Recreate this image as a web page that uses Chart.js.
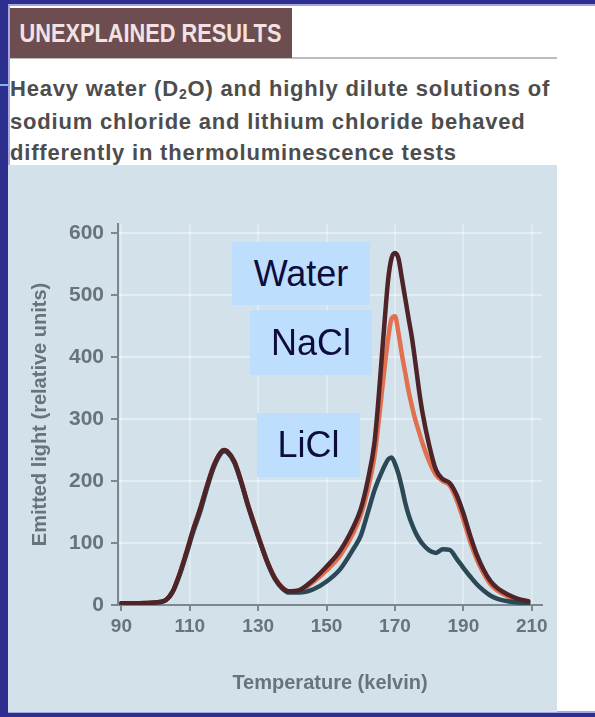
<!DOCTYPE html>
<html>
<head>
<meta charset="utf-8">
<script src="https://cdn.jsdelivr.net/npm/chart.js@4.4.0/dist/chart.umd.min.js"></script>
<style>
  html, body { margin: 0; padding: 0; }
  body {
    width: 595px; height: 717px; position: relative; overflow: hidden;
    background: #2d2f8f;
    font-family: "Liberation Sans", Arial, sans-serif;
  }
  #sheet {
    position: absolute; left: 8px; top: 4px; width: 587px; height: 709px;
    background: #fff; box-sizing: border-box;
    border-top: 2px solid #a6a6e4; border-left: 2px solid #a6a6e4; border-bottom: 2px solid #a6a6e4;
  }
  #rule { position: absolute; left: 10px; top: 57px; width: 547px; height: 2px; background: #bdbdbd; }
  #head {
    position: absolute; left: 10px; top: 8px; width: 282px; height: 50px;
    background: #6d4d4f; overflow: hidden;
  }
  #head span {
    display: inline-block; transform: scaleX(0.87); transform-origin: left center;
    color: #f2e2e4; font-weight: bold; font-size: 25px; line-height: 50px;
    padding-left: 11px; white-space: nowrap;
  }
  .cap {
    position: absolute; left: 10px; height: 30px;
    color: #4d4d4d; font-weight: bold; font-size: 22px; line-height: 30px;
    letter-spacing: 0.8px; white-space: nowrap;
  }
  .cap sub { font-size: 14px; line-height: 0; vertical-align: -3px; }
  #panel { position: absolute; left: 8px; top: 165px; width: 549px; height: 547px; background: #d3e2ea; }
  #chart { position: absolute; left: 0; top: 0; }
  .tag {
    position: absolute; background: #bddefc; color: #0c0c3e;
    font-family: "Liberation Sans", Arial, sans-serif; font-size: 36px;
    display: flex; align-items: center; justify-content: center;
  }
  #leftmark { position: absolute; left: 0; top: 84px; width: 8px; height: 2px; background: #7fb6e8; }
</style>
</head>
<body>
<div id="sheet"></div>
<div id="leftmark"></div>
<div id="rule"></div>
<div id="head"><span>UNEXPLAINED RESULTS</span></div>
<div class="cap" style="top:74px;">Heavy water (D<sub>2</sub>O) and highly dilute solutions of</div>
<div class="cap" style="top:107px;">sodium chloride and lithium chloride behaved</div>
<div class="cap" style="top:138px;">differently in thermoluminescence tests</div>
<div id="panel"><canvas id="chart" width="549" height="547"></canvas></div>
<div class="tag" style="left:232px;top:242px;width:138px;height:63px;">Water</div>
<div class="tag" style="left:250px;top:310px;width:122px;height:65px;">NaCl</div>
<div class="tag" style="left:257px;top:413px;width:103px;height:64px;">LiCl</div>
<script>
const temps = [90, 95, 100, 103, 105, 107, 109, 111, 113, 115,
  117, 119, 120, 121, 123, 125, 127, 129, 131, 133,
  135, 137, 139, 142, 146, 150, 154, 158, 160, 162,
  164, 165, 166, 167, 168, 169, 170, 171, 172, 173,
  174, 175, 176, 177, 178, 180, 182, 184, 186, 188,
  190, 192, 194, 196, 198, 200, 203, 206, 209];

const water = [3, 3, 4, 8, 22, 50, 85, 122, 155, 192,
  225, 246, 250, 248, 232, 200, 162, 128, 95, 65,
  42, 28, 22, 24, 40, 62, 88, 128, 155, 200,
  262, 320, 390, 460, 525, 560, 568, 560, 528, 495,
  462, 430, 390, 348, 312, 258, 218, 203, 197, 178,
  148, 112, 80, 56, 38, 27, 17, 10, 6];

const nacl = [3, 3, 4, 8, 22, 50, 85, 122, 155, 192,
  225, 246, 250, 248, 232, 200, 162, 129, 96, 66,
  43, 29, 22, 23, 37, 56, 80, 118, 145, 185,
  240, 285, 335, 385, 430, 462, 466, 440, 405, 375,
  345, 320, 298, 280, 262, 232, 210, 200, 193, 170,
  138, 102, 73, 50, 33, 23, 14, 8, 5];

const licl = [3, 3, 4, 8, 21, 48, 82, 118, 150, 188,
  222, 244, 248, 246, 230, 198, 160, 126, 94, 64,
  41, 27, 20, 20, 25, 38, 58, 92, 112, 148,
  185, 200, 213, 225, 235, 238, 228, 212, 190, 165,
  145, 130, 117, 107, 99, 88, 84, 90, 89, 75,
  60, 46, 33, 23, 15, 10, 6, 4, 3];

const xTicks = [90, 110, 130, 150, 170, 190, 210];
const yTicks = [0, 100, 200, 300, 400, 500, 600];

function pts(vals) {
  return temps.map((t, i) => ({ x: t, y: vals[i] }));
}

Chart.defaults.font.family = '"Liberation Sans", Arial, sans-serif';
const axisGray = "#7d888e";
const textGray = "#69737a";

const ctx = document.getElementById("chart").getContext("2d");
new Chart(ctx, {
  type: "line",
  data: {
    datasets: [
      { label: "Water", data: pts(water), borderColor: "#4e2428", borderWidth: 4.5 },
      { label: "LiCl", data: pts(licl), borderColor: "#2b4856", borderWidth: 4.5 },
      { label: "NaCl", data: pts(nacl), borderColor: "#e0704f", borderWidth: 4.5 },
    ],
  },
  options: {
    responsive: false,
    animation: false,
    layout: { padding: { top: 59, right: 15, left: 0, bottom: 0 } },
    elements: {
      point: { radius: 0 },
      line: { tension: 0.4, cubicInterpolationMode: "monotone", borderCapStyle: "round", borderJoinStyle: "round" },
    },
    plugins: { legend: { display: false }, tooltip: { enabled: false } },
    scales: {
      x: {
        type: "linear",
        min: 89,
        max: 213,
        afterBuildTicks: (s) => { s.ticks = xTicks.map((v) => ({ value: v })); },
        afterFit: (s) => { s.height = 107; },
        border: { color: axisGray, width: 2 },
        grid: { color: "rgba(255,255,255,0.3)", lineWidth: 2, tickColor: axisGray, tickLength: 6 },
        ticks: { color: textGray, font: { size: 19, weight: "bold" }, padding: 4, maxRotation: 0, autoSkip: false },
        title: {
          display: true, text: "Temperature (kelvin)", color: textGray,
          font: { size: 20, weight: "bold" }, padding: { top: 0, bottom: 17 },
        },
      },
      y: {
        min: 0,
        max: 615,
        afterBuildTicks: (s) => { s.ticks = yTicks.map((v) => ({ value: v })); },
        afterFit: (s) => { s.width = 110; },
        border: { color: axisGray, width: 2 },
        grid: {
          color: (c) => (c.tick && c.tick.value === 0 ? "rgba(0,0,0,0)" : "rgba(255,255,255,0.4)"),
          lineWidth: 2, tickColor: axisGray, tickLength: 7,
        },
        ticks: { color: textGray, font: { size: 21, weight: "bold" }, padding: 7 },
        title: {
          display: true, text: "Emitted light (relative units)", color: textGray,
          font: { size: 20, weight: "bold" }, padding: { top: 20, bottom: 0 },
        },
      },
    },
  },
});
</script>
</body>
</html>
